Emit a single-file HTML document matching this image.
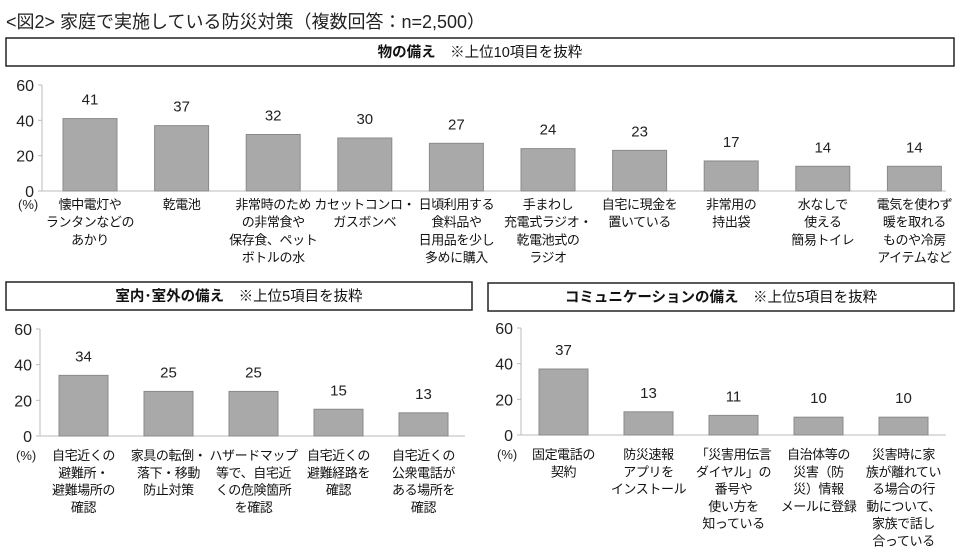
<!DOCTYPE html>
<html><head><meta charset="utf-8">
<style>
body{margin:0;background:#fff;}
svg{display:block;font-family:"Liberation Sans","Noto Sans CJK JP",sans-serif;}
</style></head>
<body>
<svg id="c" width="960" height="560" viewBox="0 0 960 560">
<text x="6" y="28" font-size="18" fill="#222">&lt;図2&gt; 家庭で実施している防災対策（複数回答：n=2,500）</text>
<rect x="6" y="38" width="948" height="28" fill="#fff" stroke="#222" stroke-width="1.5"/>
<text x="480" y="57" text-anchor="middle" font-size="14.5" fill="#111"><tspan font-weight="bold">物の備え</tspan>　※上位10項目を抜粋</text>
<rect x="6" y="282" width="466" height="28" fill="#fff" stroke="#222" stroke-width="1.5"/>
<text x="239" y="301" text-anchor="middle" font-size="14.5" fill="#111"><tspan font-weight="bold">室内･室外の備え</tspan>　※上位5項目を抜粋</text>
<rect x="488" y="283" width="466" height="28" fill="#fff" stroke="#222" stroke-width="1.5"/>
<text x="721" y="302" text-anchor="middle" font-size="14.5" fill="#111"><tspan font-weight="bold">コミュニケーションの備え</tspan>　※上位5項目を抜粋</text>
</svg>
<script>
const cats1 = [["懐中電灯や","ランタンなどの","あかり"],["乾電池"],["非常時のため","の非常食や","保存食、ペット","ボトルの水"],["カセットコンロ・","ガスボンベ"],["日頃利用する","食料品や","日用品を少し","多めに購入"],["手まわし","充電式ラジオ・","乾電池式の","ラジオ"],["自宅に現金を","置いている"],["非常用の","持出袋"],["水なしで","使える","簡易トイレ"],["電気を使わず","暖を取れる","ものや冷房","アイテムなど"]];
const vals1 = [41,37,32,30,27,24,23,17,14,14];
const cats2 = [["自宅近くの","避難所・","避難場所の","確認"],["家具の転倒・","落下・移動","防止対策"],["ハザードマップ","等で、自宅近","くの危険箇所","を確認"],["自宅近くの","避難経路を","確認"],["自宅近くの","公衆電話が","ある場所を","確認"]];
const vals2 = [34,25,25,15,13];
const cats3 = [["固定電話の","契約"],["防災速報","アプリを","インストール"],["「災害用伝言","ダイヤル」の","番号や","使い方を","知っている"],["自治体等の","災害（防","災）情報","メールに登録"],["災害時に家","族が離れてい","る場合の行","動について、","家族で話し","合っている"]];
const vals3 = [37,13,11,10,10];
const ticks = [0,20,40,60];

const svg = document.getElementById('c');
const NS = 'http://www.w3.org/2000/svg';
function mk(tag, attrs){const e=document.createElementNS(NS,tag);for(const k in attrs)e.setAttribute(k,attrs[k]);svg.appendChild(e);return e;}

function panel(p, cats, vals){
  const y = v => p.y0 - (v/60)*(p.y0-p.y60);
  const x = i => p.bx + i*p.pitch;
  let ax = mk('line',{x1:p.ax,y1:p.y60,x2:p.ax,y2:p.y0,stroke:'#bbb','stroke-width':1});
  
  
  let bl = mk('line',{x1:p.ax-4,y1:p.y0,x2:p.xend,y2:p.y0,stroke:'#bbb','stroke-width':1});
  
  
  ticks.forEach(t=>{
    let tk = mk('line',{x1:p.ax-4,y1:y(t),x2:p.ax,y2:y(t),stroke:'#bbb'});
    
    
    let tl = mk('text',{x:p.ax-8,y:y(t)+6,'text-anchor':'end','font-size':16,fill:'#222'});
    tl.textContent = t;
    
    
  });
  let pc = mk('text',{x:p.ax-24,y:p.ly+5,'font-size':13,fill:'#222'});
  pc.textContent='(%)';
  
  
  vals.forEach((v,i)=>{
    let r = mk('rect',{x:x(i),y:y(v),width:p.bw,height:p.y0-y(v),fill:'#a9a9a9',stroke:'#8a8a8a','stroke-width':1});
    
    
    let vt = mk('text',{x:x(i)+p.bw/2,y:y(v)-14,'text-anchor':'middle','font-size':15,fill:'#222'});
    vt.textContent = v;
    
    
    cats[i].forEach((ln,j)=>{
      let ct = mk('text',{x:x(i)+p.bw/2,y:p.ly+5+j*p.lh,'text-anchor':'middle','font-size':13,'letter-spacing':'-0.4',fill:'#111'});
      ct.textContent = ln;
      
      
    });
  });
}
panel({id:'goods',ax:42,xend:946,y0:191,y60:85,bx:63,pitch:91.6,bw:54,ly:204,lh:17.7},cats1,vals1);
panel({id:'indoor-outdoor',ax:40,xend:465,y0:436,y60:329,bx:59,pitch:85,bw:49,ly:455,lh:17.3},cats2,vals2);
panel({id:'communication',ax:521,xend:946,y0:435,y60:328,bx:539,pitch:85,bw:49,ly:454,lh:17.3},cats3,vals3);
</script>
</body></html>
